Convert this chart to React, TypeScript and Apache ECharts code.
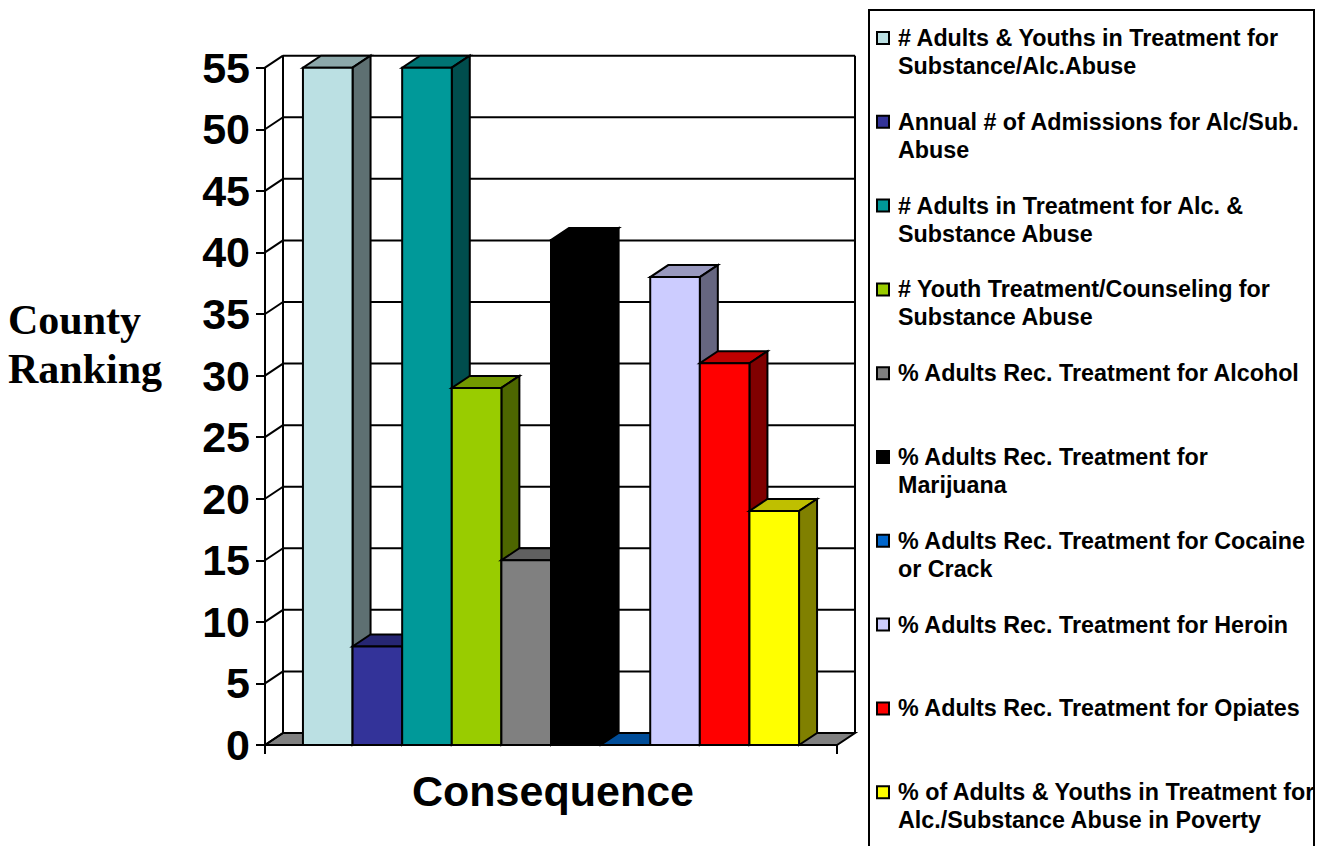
import React, { useEffect, useRef } from "react";
import * as echarts from "echarts";

const CATEGORY = "Consequence";
const AXIS_TITLE = ["County", "Ranking"];
const TICK_VALUES = [0, 5, 10, 15, 20, 25, 30, 35, 40, 45, 50, 55];

const SERIES_NAMES = [
  "# Adults & Youths in Treatment for\nSubstance/Alc.Abuse",
  "Annual # of Admissions for Alc/Sub.\nAbuse",
  "# Adults in Treatment for Alc. &\nSubstance Abuse",
  "# Youth Treatment/Counseling for\nSubstance Abuse",
  "% Adults Rec. Treatment for Alcohol",
  "% Adults Rec. Treatment for\nMarijuana",
  "% Adults Rec. Treatment for Cocaine\nor Crack",
  "% Adults Rec. Treatment for Heroin",
  "% Adults Rec. Treatment for Opiates",
  "% of Adults & Youths in Treatment for\nAlc./Substance Abuse in Poverty",
];
const SERIES_VALUES = [55, 8, 55, 29, 15, 41, 0, 38, 31, 19];
const SERIES_COLORS = [
  "#BBE0E3", "#333399", "#009999", "#99CC00", "#808080",
  "#000000", "#0066CC", "#CCCCFF", "#FF0000", "#FFFF00",
];

// Oblique offset from the front plane of the plot to its back wall.
const DEPTH_X = 18;
const DEPTH_Y = -12;
const GAP_RATIO = 1.53; // total free band width, in bar widths
const EDGE = "#000000";

function shade(hex: string, k: number) {
  const n = parseInt(hex.slice(1), 16);
  const c = [(n >> 16) & 255, (n >> 8) & 255, n & 255].map((v) => Math.round(v * k));
  return `rgb(${c[0]},${c[1]},${c[2]})`;
}

function poly(points: number[][], fill: string, lineWidth = 2) {
  return {
    type: "polygon",
    shape: { points },
    style: { fill, stroke: EDGE, lineWidth, lineJoin: "miter" },
  };
}

function line(x1: number, y1: number, x2: number, y2: number, lineWidth = 2) {
  return {
    type: "line",
    shape: { x1, y1, x2, y2 },
    style: { stroke: EDGE, lineWidth },
  };
}

// Back wall, floor and the grid lines that run round them.
function renderWall(params: any, api: any) {
  const tick = api.value(1);
  const y = api.coord([0, tick])[1];
  const cs = params.coordSys;
  const left = cs.x;
  const right = cs.x + cs.width;
  const children: any[] = [
    line(left, y, left + DEPTH_X, y + DEPTH_Y),
    line(left + DEPTH_X, y + DEPTH_Y, right + DEPTH_X, y + DEPTH_Y),
  ];
  if (tick === 0) {
    children.unshift(
      poly(
        [
          [left, y],
          [right, y],
          [right + DEPTH_X, y + DEPTH_Y],
          [left + DEPTH_X, y + DEPTH_Y],
        ],
        "#808080"
      )
    );
    const top = api.coord([0, TICK_VALUES[TICK_VALUES.length - 1]])[1] + DEPTH_Y;
    children.push(
      line(left + DEPTH_X, y + DEPTH_Y, left + DEPTH_X, top),
      line(right + DEPTH_X, y + DEPTH_Y, right + DEPTH_X, top)
    );
  }
  return { type: "group", children };
}

function makeBarRenderer(index: number, color: string) {
  return (params: any, api: any) => {
    const cs = params.coordSys;
    const [cx, yTop] = api.coord([0, api.value(1)]);
    const yBase = api.coord([0, 0])[1];
    const n = SERIES_VALUES.length;
    const barW = cs.width / (n + GAP_RATIO);
    const x1 = cx - (n / 2) * barW + index * barW;
    const x2 = x1 + barW;
    const children: any[] = [
      poly(
        [
          [x1, yTop],
          [x2, yTop],
          [x2 + DEPTH_X, yTop + DEPTH_Y],
          [x1 + DEPTH_X, yTop + DEPTH_Y],
        ],
        shade(color, 0.75)
      ),
    ];
    if (yBase > yTop) {
      children.push(
        poly(
          [
            [x2, yTop],
            [x2 + DEPTH_X, yTop + DEPTH_Y],
            [x2 + DEPTH_X, yBase + DEPTH_Y],
            [x2, yBase],
          ],
          shade(color, 0.5)
        ),
        poly(
          [
            [x1, yTop],
            [x2, yTop],
            [x2, yBase],
            [x1, yBase],
          ],
          color
        )
      );
    }
    return { type: "group", children };
  };
}

export default function App() {
  const ref = useRef<HTMLDivElement>(null);

  useEffect(() => {
    const chart = echarts.init(ref.current!, undefined, { renderer: "svg" });

    const legendGraphics: any[] = [
      {
        type: "rect",
        shape: { x: 869, y: 10, width: 445, height: 900 },
        style: { fill: "#ffffff", stroke: EDGE, lineWidth: 2 },
      },
    ];
    SERIES_NAMES.forEach((name, i) => {
      const y = 38 + 83.8 * i;
      legendGraphics.push(
        {
          type: "rect",
          shape: { x: 877, y: y - 6, width: 12, height: 12 },
          style: { fill: SERIES_COLORS[i], stroke: EDGE, lineWidth: 2 },
        },
        {
          type: "text",
          x: 898,
          y: y - 14,
          style: {
            text: name,
            font: 'bold 23.3px "Liberation Sans", Arial, sans-serif',
            lineHeight: 28,
            fill: "#000000",
            align: "left",
            verticalAlign: "top",
          },
        }
      );
    });

    chart.setOption({
      animation: false,
      backgroundColor: "#ffffff",
      grid: { left: 265, top: 67.7, width: 572, height: 677.3, containLabel: false },
      xAxis: {
        type: "category",
        data: [CATEGORY],
        axisLine: { lineStyle: { color: EDGE, width: 2 } },
        axisTick: { show: true, length: 9, lineStyle: { color: EDGE, width: 2 } },
        axisLabel: {
          margin: 24,
          padding: [0, 0, 0, 4],
          color: "#000000",
          fontFamily: '"Liberation Sans", Arial, sans-serif',
          fontWeight: "bold",
          fontSize: 43,
        },
      },
      yAxis: {
        type: "value",
        min: 0,
        max: 55,
        interval: 5,
        splitLine: { show: false },
        axisLine: { show: true, lineStyle: { color: EDGE, width: 2 } },
        axisTick: { show: true, length: 9, lineStyle: { color: EDGE, width: 2 } },
        axisLabel: {
          margin: 15,
          color: "#000000",
          fontFamily: '"Liberation Sans", Arial, sans-serif',
          fontWeight: "bold",
          fontSize: 43,
        },
      },
      series: [
        {
          type: "custom",
          name: "wall",
          silent: true,
          clip: false,
          encode: { x: 0, y: 1 },
          data: TICK_VALUES.map((t) => [0, t]),
          renderItem: renderWall,
          z: 1,
        },
        ...SERIES_NAMES.map((name, i) => ({
          type: "custom",
          name,
          clip: false,
          encode: { x: 0, y: 1 },
          data: [[0, SERIES_VALUES[i]]],
          renderItem: makeBarRenderer(i, SERIES_COLORS[i]),
          z: 2,
        })),
      ],
      graphic: [
        ...AXIS_TITLE.map((t, i) => ({
          type: "text",
          x: 8,
          y: 320 + i * 49,
          style: {
            text: t,
            font: 'bold 42px "Liberation Serif", "Times New Roman", serif',
            fill: "#000000",
            align: "left",
            verticalAlign: "middle",
          },
        })),
        ...legendGraphics,
      ],
    });

    return () => chart.dispose();
  }, []);

  return (
    <div
      ref={ref}
      style={{ position: "absolute", left: 0, top: 0, width: 1319, height: 846, overflow: "hidden" }}
    />
  );
}
